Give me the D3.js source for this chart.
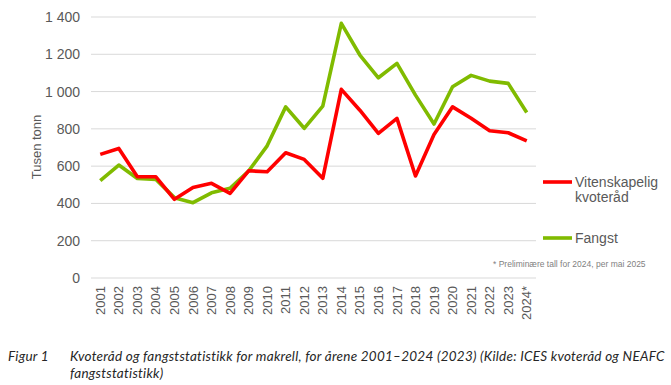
<!DOCTYPE html>
<html>
<head>
<meta charset="utf-8">
<script src="https://cdn.jsdelivr.net/npm/d3@7"></script>
<style>
  body { margin: 0; background: #fff; }
  svg { display: block; }
</style>
</head>
<body>
<svg id="chart" width="671" height="385"></svg>
<script>
const years = ['2001','2002','2003','2004','2005','2006','2007','2008','2009','2010','2011','2012',
  '2013','2014','2015','2016','2017','2018','2019','2020','2021','2022','2023','2024*']
const kvoterad = [663, 695, 543, 543, 422, 486, 508, 454, 575, 570, 672, 636,
  535, 1012, 900, 776, 856, 547, 770, 918, 857, 790, 779, 736]
const fangst = [522, 606, 534, 529, 431, 404, 457, 481, 574, 709, 918, 803,
  922, 1366, 1196, 1074, 1151, 981, 826, 1026, 1087, 1056, 1044, 888]
const yTicks = [0, 200, 400, 600, 800, 1000, 1200, 1400]

const series = [
  { name: ['Vitenskapelig', 'kvoteråd'], values: kvoterad, color: '#ff0000', legendY: 182 },
  { name: ['Fangst'], values: fangst, color: '#80bb00', legendY: 238 },
]

const svg = d3.select('#chart')
const plot = { left: 91, right: 536, top: 17, bottom: 278 }
const textColor = '#595959'

const x = d3.scaleBand().domain(years).range([plot.left, plot.right])
const y = d3.scaleLinear().domain([0, 1400]).range([plot.bottom, plot.top])
const fmt = v => d3.format(',')(v).replace(/,/g, ' ')

// gridlines
svg.append('g')
  .selectAll('line')
  .data(yTicks)
  .join('line')
  .attr('x1', plot.left).attr('x2', plot.right)
  .attr('y1', d => y(d)).attr('y2', d => y(d))
  .attr('stroke', '#d9d9d9').attr('stroke-width', 1)

// y axis labels
const yAxis = svg.append('g')
  .attr('transform', `translate(${plot.left},0)`)
  .call(d3.axisLeft(y).tickValues(yTicks).tickFormat(fmt).tickSize(0).tickPadding(11))
yAxis.select('.domain').remove()
yAxis.selectAll('text')
  .attr('fill', textColor)
  .style('font-family', 'Liberation Sans, Arial, sans-serif')
  .style('font-size', '14px')

// x axis labels, rotated
const xAxis = svg.append('g')
  .attr('transform', `translate(0,${plot.bottom})`)
  .call(d3.axisBottom(x).tickSize(0).tickPadding(0))
xAxis.select('.domain').remove()
xAxis.selectAll('text')
  .attr('fill', textColor)
  .style('font-family', 'Liberation Sans, Arial, sans-serif')
  .style('font-size', '13px')
  .attr('text-anchor', 'end')
  .attr('y', 0)
  .attr('dy', '0.35em')
  .attr('transform', 'translate(0,8) rotate(-90)')

// y title
svg.append('text')
  .attr('transform', `translate(41,147) rotate(-90)`)
  .attr('text-anchor', 'middle')
  .attr('fill', textColor)
  .style('font-family', 'Liberation Sans, Arial, sans-serif')
  .style('font-size', '13px')
  .text('Tusen tonn')

// lines
const line = d3.line()
  .x((d, i) => x(years[i]) + x.bandwidth() / 2)
  .y(d => y(d))

svg.append('g')
  .selectAll('path')
  .data(series.slice().reverse())
  .join('path')
  .attr('d', d => line(d.values))
  .attr('fill', 'none')
  .attr('stroke', d => d.color)
  .attr('stroke-width', 3.6)
  .attr('stroke-linejoin', 'round')

// legend
const legend = svg.append('g')
  .selectAll('g')
  .data(series)
  .join('g')
  .attr('transform', d => `translate(543,${d.legendY})`)
legend.append('line')
  .attr('x1', 0).attr('x2', 29)
  .attr('stroke', d => d.color)
  .attr('stroke-width', 3.6)
legend.append('text')
  .attr('fill', textColor)
  .style('font-family', 'Liberation Sans, Arial, sans-serif')
  .style('font-size', '14px')
  .selectAll('tspan')
  .data(d => d.name)
  .join('tspan')
  .attr('x', 32)
  .attr('dy', (d, i) => i === 0 ? '0.35em' : '1.1em')
  .text(d => d)

// footnote
svg.append('text')
  .attr('x', 493).attr('y', 267)
  .attr('fill', '#7f7f7f')
  .style('font-family', 'Liberation Sans, Arial, sans-serif')
  .style('font-size', '8.5px')
  .text('* Preliminære tall for 2024, per mai 2025')

// caption
const caption = svg.append('g')
  .attr('fill', '#262626')
  .style('font-family', 'Lato, sans-serif')
  .style('font-style', 'italic')
  .style('font-weight', 400)
  .style('font-size', '13.5px')
  .style('letter-spacing', '0.25px')
caption.append('text').attr('x', 8).attr('y', 361).text('Figur 1')
caption.append('text').attr('x', 70).attr('y', 361)
  .text('Kvoteråd og fangststatistikk for makrell, for årene 2001–2024 (2023) (Kilde: ICES kvoteråd og NEAFC')
caption.append('text').attr('x', 70).attr('y', 378).text('fangststatistikk)')
</script>
</body>
</html>
